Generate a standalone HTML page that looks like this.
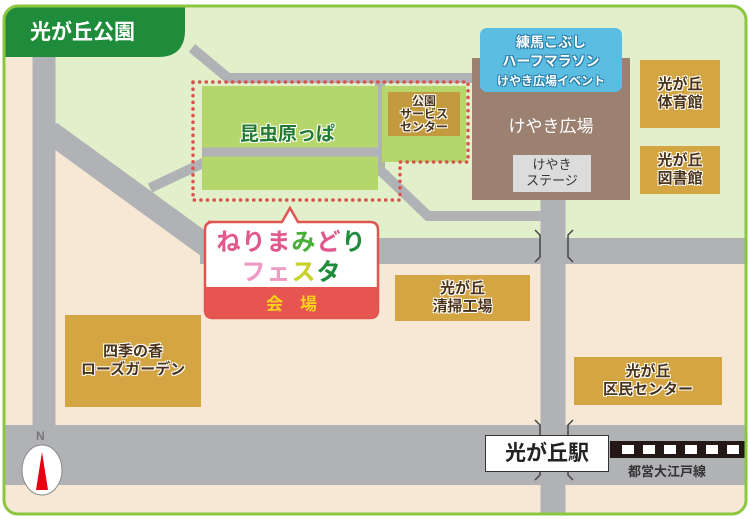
<!DOCTYPE html>
<html><head><meta charset="utf-8"><style>
body{margin:0;width:750px;height:519px;overflow:hidden;background:#fff;font-family:"Liberation Sans","Noto Sans CJK JP",sans-serif}
.a{position:absolute}
.g{position:absolute;background:#d3a543;color:#4a3318;font-weight:bold;font-size:15px;line-height:18px;text-align:center;display:flex;align-items:center;justify-content:center;text-shadow:1px 1px 0 #fff,-1px -1px 0 #fff,1px -1px 0 #fff,-1px 1px 0 #fff}
</style></head><body>
<svg class="a" style="left:0;top:0" width="750" height="519">
<defs><clipPath id="c"><rect x="4" y="6" width="742" height="508" rx="14"/></clipPath></defs>
<g clip-path="url(#c)">
<rect x="0" y="0" width="750" height="519" fill="#f6e8d4"/>
<polygon points="44,0 750,0 750,240 200,240 55,130 44,130" fill="#e1efcb"/>
<g stroke="#b1b2b5" fill="none" stroke-linecap="butt">
<line x1="44" y1="55" x2="44" y2="440" stroke-width="23"/>
<line x1="50" y1="132" x2="215" y2="252" stroke-width="23"/>
<line x1="200" y1="251" x2="750" y2="251" stroke-width="26"/>
<line x1="553" y1="195" x2="553" y2="519" stroke-width="25"/>
<line x1="0" y1="455" x2="750" y2="455" stroke-width="60"/>
<polyline points="192,48 228,78 475,78" stroke-width="10"/>
<polyline points="150,188 220,155 380,155" stroke-width="10"/>
<polyline points="380,78 380,170 428,216 545,216" stroke-width="10"/>
</g>
<rect x="202" y="86" width="176" height="104" fill="#b5d66a"/>
<line x1="202" y1="152" x2="378" y2="152" stroke="#b1b2b5" stroke-width="9"/>
<rect x="382" y="86" width="84" height="76" fill="#b5d66a"/>
<rect x="388" y="92" width="72" height="44" fill="#c49a3e"/>
<polyline points="193,82 468,82 468,162 400,162 400,200 193,200 193,82" fill="none" stroke="#d9514d" stroke-width="3.5" stroke-dasharray="0.1 6.5" stroke-linecap="round"/>
<rect x="472" y="58" width="158" height="142" fill="#9c8070"/>
<rect x="480" y="28" width="142" height="64" rx="7" fill="#5cbde2"/>
<rect x="513" y="155" width="78" height="37" fill="#dcdcdd"/>
<g stroke="#444" stroke-width="1.5" fill="none">
<path d="M535,230 l5,5 v22 l-5,5"/><path d="M573,230 l-5,5 v22 l5,5"/>
<path d="M535,420 l5,5 v50 l-5,5"/><path d="M573,420 l-5,5 v50 l5,5"/>
</g>
<rect x="610" y="441" width="140" height="17" fill="#231815"/>
<g fill="#fff"><rect x="622" y="445" width="12" height="9"/><rect x="643" y="445" width="12" height="9"/><rect x="664" y="445" width="12" height="9"/><rect x="685" y="445" width="12" height="9"/><rect x="706" y="445" width="12" height="9"/><rect x="727" y="445" width="12" height="9"/></g>
<path d="M4,6 H185 V30 Q185,57 158,57 H4 Z" fill="#1f8c3b"/>
<ellipse cx="42" cy="470" rx="20" ry="25" fill="#fff" stroke="#888" stroke-width="1"/>
<polygon points="42,452 36,490 48,490" fill="#e60012"/>
<path d="M208,222 H282 L290,208 L298,222 H370 Q378,222 378,230 V310 Q378,318 370,318 H213 Q205,318 205,310 V230 Q205,222 213,222Z" fill="#fff" stroke="#e25450" stroke-width="2.5"/>
<path d="M206,287 H377 V310 Q377,317 370,317 H213 Q206,317 206,310Z" fill="#e65550"/>
</g>
<rect x="4" y="6" width="742" height="508" rx="14" fill="none" stroke="#8cc63f" stroke-width="3"/>
</svg>
<div class="a" style="left:30px;top:16px;color:#fff;font-size:21px;font-weight:bold">光が丘公園</div>
<div class="a" style="left:240px;top:119px;color:#237a35;font-size:19px;font-weight:bold;text-shadow:1px 1px 0 #fff,-1px -1px 0 #fff,1px -1px 0 #fff,-1px 1px 0 #fff">昆虫原っぱ</div>
<div class="g" style="left:388px;top:92px;width:72px;height:44px;font-size:12px;line-height:13px;background:none">公園<br>サービス<br>センター</div>
<div class="a" style="left:480px;top:33px;width:142px;text-align:center;color:#fff;font-weight:bold;font-size:14px;line-height:19px;text-shadow:1px 1px 0 #2a7fa8,-1px -1px 0 #2a7fa8,1px -1px 0 #2a7fa8,-1px 1px 0 #2a7fa8">練馬こぶし<br>ハーフマラソン<br><span style="font-size:12px">けやき広場イベント</span></div>
<div class="a" style="left:472px;top:112px;width:158px;text-align:center;color:#fff;font-size:17px">けやき広場</div>
<div class="a" style="left:513px;top:157px;width:78px;text-align:center;color:#333;font-size:13px;line-height:16px">けやき<br>ステージ</div>
<div class="g" style="left:640px;top:60px;width:80px;height:68px">光が丘<br>体育館</div>
<div class="g" style="left:640px;top:146px;width:80px;height:48px">光が丘<br>図書館</div>
<div class="a" style="left:205px;top:228px;width:173px;text-align:center;font-size:24px;font-weight:bold;line-height:30px;letter-spacing:1px"><span style="color:#e0588c">ねりま</span><span style="color:#4cae3a">み</span><span style="color:#e0588c">ど</span><span style="color:#1f8c3b">り</span><br><span style="color:#ef9ac2">フェ</span><span style="color:#c9d22b">ス</span><span style="color:#1f8c3b">タ</span></div>
<div class="a" style="left:205px;top:290px;width:173px;text-align:center;color:#fbd31c;font-size:17px;font-weight:bold">会　場</div>
<div class="g" style="left:395px;top:275px;width:135px;height:46px">光が丘<br>清掃工場</div>
<div class="g" style="left:65px;top:315px;width:136px;height:92px">四季の香<br>ローズガーデン</div>
<div class="g" style="left:574px;top:357px;width:148px;height:48px">光が丘<br>区民センター</div>
<div class="a" style="left:485px;top:435px;width:122px;height:35px;background:#fff;border:1.5px solid #333;text-align:center;font-size:21px;font-weight:bold;line-height:35px;color:#222">光が丘駅</div>
<div class="a" style="left:628px;top:461px;font-size:13px;color:#333;font-weight:bold">都営大江戸線</div>
<div class="a" style="left:36px;top:429px;font-size:12px;color:#777;font-weight:bold">N</div>
</body></html>
